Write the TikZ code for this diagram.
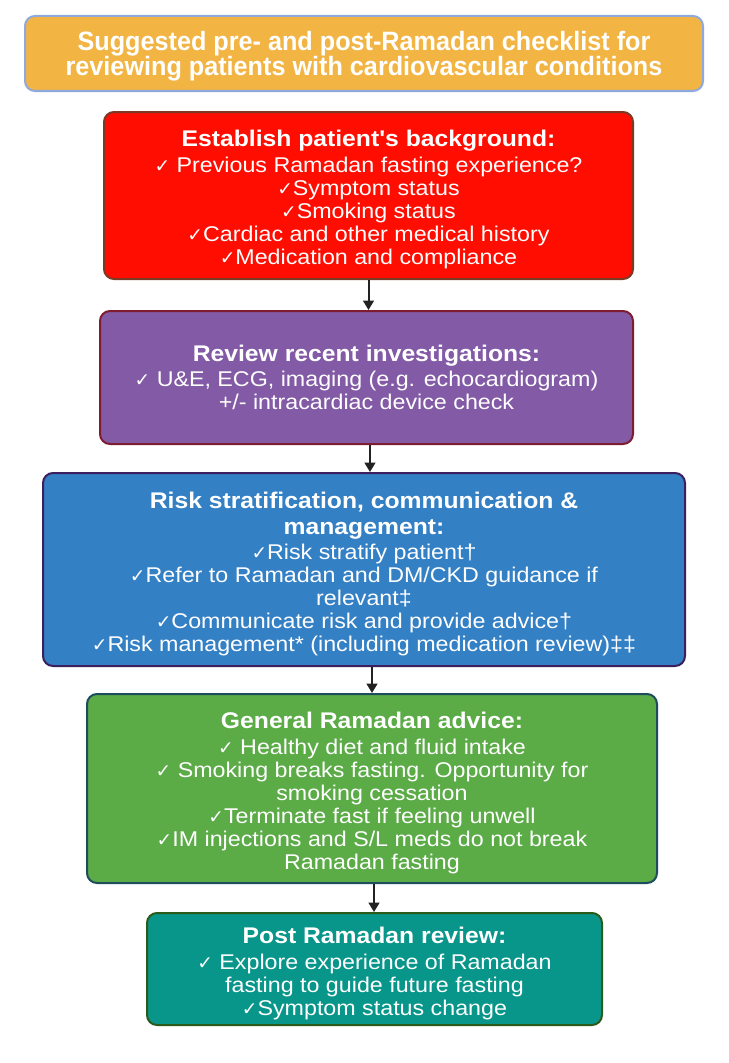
\documentclass[tikz,border=0pt]{standalone}
\usepackage{fontspec}
\setmainfont{Liberation Sans}[Ligatures=TeXOff,FakeStretch=1.09]
\newfontfamily\condfont{Liberation Sans}[FakeStretch=0.95,Ligatures=TeXOff]
\newfontfamily\ckfont{DejaVu Sans}
\usetikzlibrary{arrows.meta}
\newcommand\ck{{\ckfont\fontsize{14}{14}\selectfont ✓}}
\newcommand\hd[1]{{\fontsize{17}{19}\selectfont\bfseries #1}}
\newcommand\tightls{\lineskiplimit-20pt\relax}
\newcommand\tstrut{\rule{0pt}{18.8pt}}
\definecolor{cTitle}{HTML}{F2B443}
\definecolor{bTitle}{HTML}{8EA9DB}
\definecolor{cRed}{HTML}{FE0D00}
\definecolor{bRed}{HTML}{7B3A26}
\definecolor{cPur}{HTML}{825AA6}
\definecolor{bPur}{HTML}{7E1D2F}
\definecolor{cBlue}{HTML}{3380C5}
\definecolor{bBlue}{HTML}{3B1F5E}
\definecolor{cGreen}{HTML}{5BAB47}
\definecolor{bGreen}{HTML}{1E4D5E}
\definecolor{cTeal}{HTML}{08958A}
\definecolor{bTeal}{HTML}{2B5B1A}
\definecolor{arrc}{HTML}{222222}
\begin{document}
\begin{tikzpicture}[x=0.75pt,y=-0.75pt,
  box/.style={rectangle, rounded corners=7.5pt, line width=1.5pt, text=white,
    align=center, inner sep=0pt, font=\fontsize{16}{17.25}\selectfont\tightls},
  arr/.style={draw=arrc, line width=1.5pt, -{Triangle[width=8pt,length=7pt]}}]
\useasboundingbox (0,0) rectangle (728,1063);
\fill[white] (0,0) rectangle (728,1063);

\node[box, fill=cTitle, draw=bTitle, minimum width=508.5pt, minimum height=56.25pt,
  font=\condfont\fontsize{19.9}{18.75}\selectfont\bfseries\tightls] (title) at (364,53.5)
  {\rule{0pt}{19pt}Suggested pre- and post-Ramadan checklist for\\reviewing patients with cardiovascular conditions};

\node[box, fill=cRed, draw=bRed, minimum width=396.75pt, minimum height=125.25pt] (bg) at (368.5,195.5)
  {\hd{\tstrut Establish patient's background:}\\[2pt]
   \ck\ Previous Ramadan fasting experience?\\
   \ck Symptom status\\
   \ck Smoking status\\
   \ck Cardiac and other medical history\\
   \ck Medication and compliance};

\node[box, fill=cPur, draw=bPur, minimum width=399.75pt, minimum height=99.75pt] (inv) at (366.5,377.5)
  {\hd{Review recent investigations:}\\[2pt]
   \ck\ U\&E, ECG, imaging (e.g. echocardiogram)\\
   +/- intracardiac device check};

\node[box, fill=cBlue, draw=bBlue, minimum width=481.5pt, minimum height=144.75pt] (risk) at (364,569.5)
  {\hd{\tstrut Risk stratification, communication \&}\\[2pt]
   \hd{management:}\\[1.5pt]
   \ck Risk stratify patient†\\
   \ck Refer to Ramadan and DM/CKD guidance if\\
   relevant‡\\
   \ck Communicate risk and provide advice†\\
   \ck Risk management* (including medication review)‡‡};

\node[box, fill=cGreen, draw=bGreen, minimum width=427.5pt, minimum height=141.75pt] (adv) at (372,788.5)
  {\hd{\tstrut General Ramadan advice:}\\[2pt]
   \ck\ Healthy diet and fluid intake\\
   \ck\ Smoking breaks fasting. Opportunity for\\
   smoking cessation\\
   \ck Terminate fast if feeling unwell\\
   \ck IM injections and S/L meds do not break\\
   Ramadan fasting};

\node[box, fill=cTeal, draw=bTeal, minimum width=341.25pt, minimum height=84pt] (post) at (374.5,969)
  {\hd{\tstrut Post Ramadan review:}\\[2pt]
   \ck\ Explore experience of Ramadan\\
   fasting to guide future fasting\\
   \ck Symptom status change};

\draw[arr] (bg.south) -- (bg.south |- inv.north);
\draw[arr] ([xshift=2.6pt]inv.south) -- ([xshift=2.6pt]inv.south |- risk.north);
\draw[arr] ([xshift=6pt]risk.south) -- ([xshift=6pt]risk.south |- adv.north);
\draw[arr] ([xshift=1.5pt]adv.south) -- ([xshift=1.5pt]adv.south |- post.north);
\end{tikzpicture}
\end{document}
